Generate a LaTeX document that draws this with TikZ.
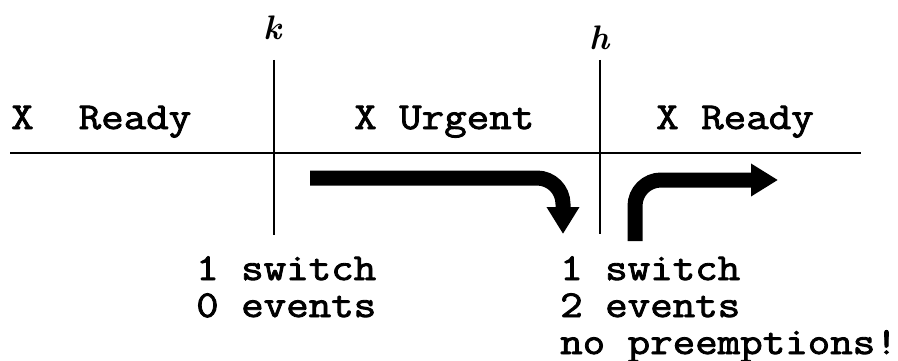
\documentclass[tikz,border=0pt]{standalone}
\usepackage{fontspec}
\usetikzlibrary{arrows.meta}
\newfontfamily\courierish[FakeStretch=1.15,FakeBold=2.2]{Latin Modern Mono}
\begin{document}
\begin{tikzpicture}[x=1pt,y=-1pt,
  lbl/.style={inner sep=0pt,anchor=base west,font=\courierish\fontsize{38}{37}\selectfont},
  timelbl/.style={inner sep=0pt,anchor=base,font=\fontsize{34}{34}\selectfont\bfseries\itshape},
  axis/.style={line width=1.8pt},
  bigarrow/.style={line width=15pt,rounded corners=26pt,-{Triangle[length=27pt,width=31pt]}}]
\useasboundingbox (0,0) rectangle (898,361);
% axis and time marks
\coordinate (L) at (10,153);
\coordinate (R) at (861,153);
\coordinate (ktop) at (274,60);
\coordinate (kbot) at (274,235);
\coordinate (htop) at (600,60);
\coordinate (hbot) at (600,234);
\draw[axis] (L) -- (R);
\draw[axis] (ktop) -- (kbot);
\draw[axis] (htop) -- (hbot);
\node[timelbl] (k) at (273,40) {k};
\node[timelbl] (h) at (600,50) {h};
% state labels
\node[lbl] (xr1) at (11,129) {X\ \ Ready};
\node[lbl] (xu) at (354,129) {X Urgent};
\node[lbl] (xr2) at (656,129) {X Ready};
% arrows
\coordinate (a1s) at (310,178);
\coordinate (a1e) at (563,234);
\coordinate (a2s) at (635,241);
\coordinate (a2e) at (778,180);
\draw[bigarrow] (a1s) -| (a1e);
\draw[bigarrow] (a2s) |- (a2e);
% counts
\node[lbl] (s1) at (196,280) {1 switch};
\node[lbl] (e1) at (196,317) {0 events};
\node[lbl] (s2) at (560,280) {1 switch};
\node[lbl] (e2) at (560,317) {2 events};
\node[lbl] (np) at (560,354) {no preemptions!};
\end{tikzpicture}
\end{document}
